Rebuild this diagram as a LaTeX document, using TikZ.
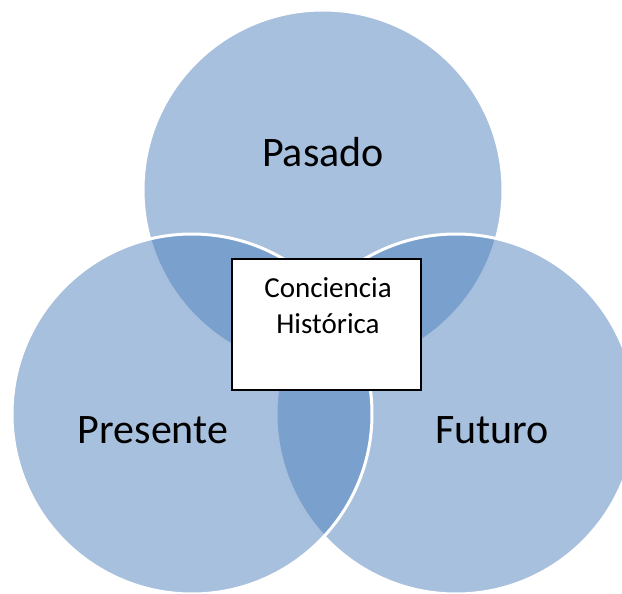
\documentclass[tikz,border=0pt]{standalone}
\usepackage{fontspec}
\setmainfont{Carlito}
\definecolor{accent}{HTML}{4F81BD}
\begin{document}
\begin{tikzpicture}[x=1pt,y=-1pt,
  venn/.style={circle, minimum size=360pt, inner sep=0pt, fill=accent, fill opacity=0.5, draw=white, draw opacity=1, line width=3pt},
  biglbl/.style={font=\fontsize{42}{50}\selectfont, inner sep=0pt, anchor=base},
  boxlbl/.style={font=\fontsize{29}{36}\selectfont, inner sep=0pt, anchor=base},
  centerbox/.style={draw=black, line width=1.8pt, fill=white, minimum width=189pt, minimum height=131pt, inner sep=0pt}]
\useasboundingbox (0,0) rectangle (622,594);
\clip (0,0) rectangle (622,594);
\node[venn] (pasado) at (323,190) {};
\node[venn] (futuro) at (456,414) {};
\node[venn] (presente) at (192,414) {};
\node[biglbl] (lp) at (323,167) {Pasado};
\node[biglbl] (lpr) at (153,443) {Presente};
\node[biglbl] (lf) at (492,443) {Futuro};
\node[centerbox] (box) at (326.5,324.5) {};
\node[boxlbl] (c1) at (328,297) {Conciencia};
\node[boxlbl] (c2) at (328,333) {Histórica};
\end{tikzpicture}
\end{document}
